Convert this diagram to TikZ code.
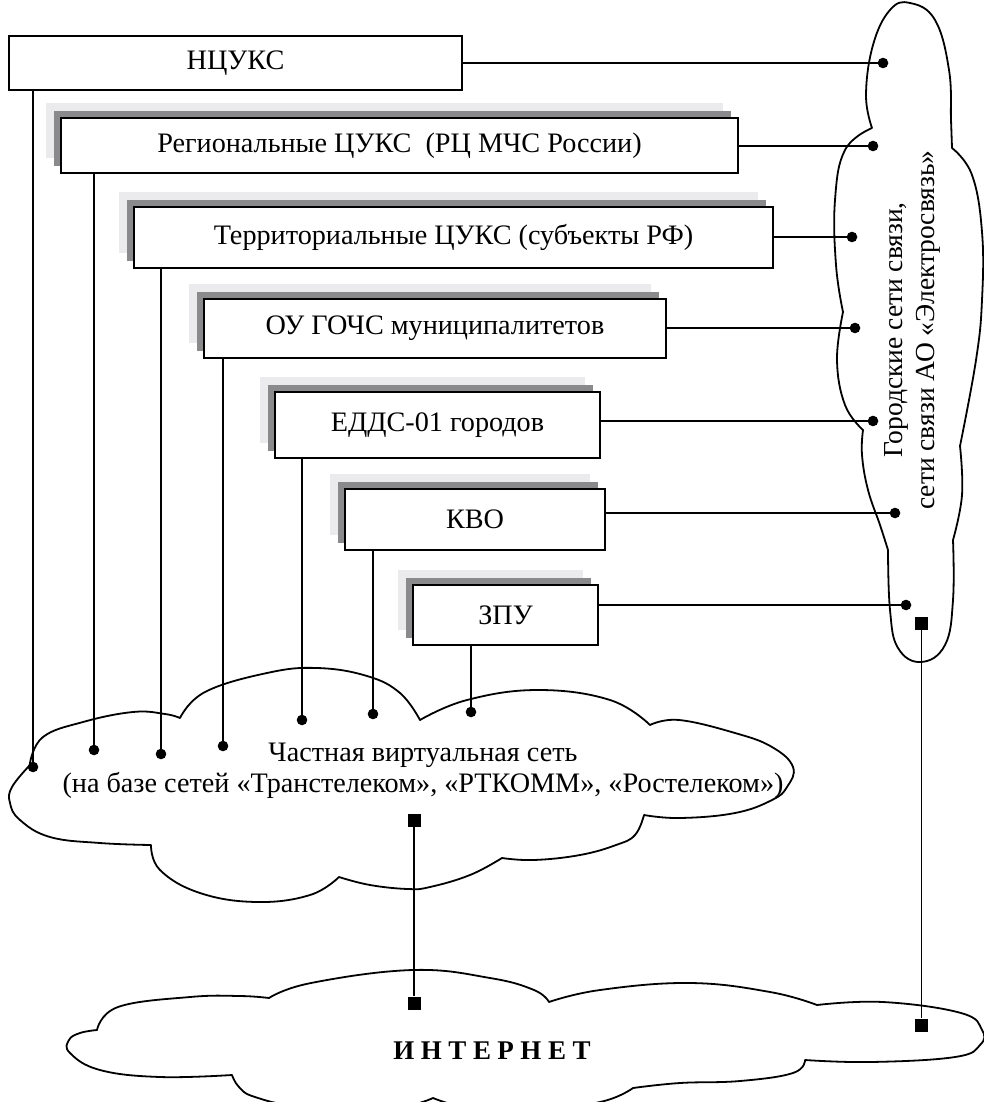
\documentclass[tikz,border=0pt]{standalone}
\usepackage{fontspec}
\setmainfont{Liberation Serif}
\usetikzlibrary{shadows}
\definecolor{lsh}{RGB}{235,235,237}
\definecolor{dsh}{RGB}{138,138,140}
\begin{document}
\begin{tikzpicture}[x=1pt,y=-1pt,
  every node/.style={font=\fontsize{28.2}{31.5}\selectfont},
  box/.style={draw=black, line width=2.7pt, fill=white, inner sep=0pt},
  shbox/.style={box,
    general shadow={fill=lsh, draw=none, shadow xshift=-15pt, shadow yshift=15pt},
    general shadow={fill=dsh, draw=none, shadow xshift=-7pt, shadow yshift=7pt}},
  cloud/.style={draw=black, line width=1.8pt, line join=round},
  conn/.style={draw=black, line width=1.1pt},
  dotm/.style={circle, fill=black, minimum size=10.6pt, inner sep=0pt},
  sqm/.style={rectangle, fill=black, minimum size=13pt, inner sep=0pt},
  lbl/.style={inner sep=0pt}]
\useasboundingbox (0,0) rectangle (984,1102);

% ---------- clouds ----------
% right cloud
\draw[cloud] plot[smooth, tension=0.7] coordinates {(872,128) (866,95) (873,45) (890,10) (910,3) (935,20) (949,70) (951,120) (952,148)}
 -- plot[smooth, tension=0.7] coordinates {(952,148) (972,175) (982,232) (982,300) (976,360) (960,446)}
 -- plot[smooth, tension=0.7] coordinates {(960,446) (962,495) (953,540)}
 -- plot[smooth, tension=0.7] coordinates {(953,540) (953,600) (945,645) (921,662) (898,648) (890,610) (888,550)}
 -- plot[smooth, tension=0.7] coordinates {(888,550) (880,525) (868,490) (862,455) (863,430)}
 -- plot[smooth, tension=0.7] coordinates {(863,430) (845,405) (837,360) (843,312)}
 -- plot[smooth, tension=0.7] coordinates {(843,312) (836,265) (835,200) (845,150) (872,128)}
 -- cycle;

% VPN cloud
\draw[cloud] plot[smooth, tension=0.7] coordinates {(30,763) (43,737) (83,722) (133,712) (165,714) (180,718)}
 -- plot[smooth, tension=0.7] coordinates {(180,718) (205,692) (267,673) (317,668) (367,676) (400,693) (420,720)}
 -- plot[smooth, tension=0.7] coordinates {(420,720) (467,700) (538,690) (610,700) (650,725)}
 -- plot[smooth, tension=0.7] coordinates {(650,725) (679,720) (735,733) (772,747) (793,767) (787,787) (772,800) (735,813) (680,818) (644,815)}
 -- plot[smooth, tension=0.7] coordinates {(644,815) (635,835) (616,845) (580,855) (534,860) (502,858)}
 -- plot[smooth, tension=0.7] coordinates {(502,858) (470,875) (430,887) (408,889) (370,885) (339,877)}
 -- plot[smooth, tension=0.7] coordinates {(339,877) (310,895) (257,902) (200,893) (160,870) (151,845)}
 -- plot[smooth, tension=0.7] coordinates {(151,845) (100,843) (50,837) (20,820) (10,803) (12,787) (30,765)}
 -- cycle;

% Internet cloud
\begin{scope}
\clip (0,0) rectangle (984,1102);
\draw[cloud] plot[smooth, tension=0.7] coordinates {(97,1030) (118,1007) (190,997) (240,996) (269,998)}
 -- plot[smooth, tension=0.7] coordinates {(269,998) (311,983) (413,970) (490,978) (534,990) (549,1002)}
 -- plot[smooth, tension=0.7] coordinates {(549,1002) (600,990) (690,983) (770,992) (817,1005)}
 -- plot[smooth, tension=0.7] coordinates {(817,1005) (883,1002) (961,1013) (982,1030) (980,1045) (955,1057) (871,1062) (805,1060)}
 -- plot[smooth, tension=0.7] coordinates {(805,1060) (793,1073) (740,1081) (680,1083) (633,1088)}
 -- plot[smooth, tension=0.7] coordinates {(633,1088) (600,1102) (530,1110) (470,1108) (433,1098)}
 -- plot[smooth, tension=0.7] coordinates {(433,1098) (390,1108) (300,1106) (255,1097) (239,1087) (232,1075)}
 -- plot[smooth, tension=0.7] coordinates {(232,1075) (160,1077) (100,1070) (70,1053) (69,1040) (80,1033) (97,1030)}
 -- cycle;
\end{scope}

% ---------- boxes ----------
\node[box, minimum width=453pt, minimum height=54pt] (b1) at (235.5,63) {НЦУКС};
\node[shbox, minimum width=677pt, minimum height=55pt] (b2) at (399.5,145.5) {Региональные ЦУКС\ \ (РЦ МЧС России)};
\node[shbox, minimum width=639pt, minimum height=61pt] (b3) at (453.5,237.5) {Территориальные ЦУКС (субъекты РФ)};
\node[shbox, minimum width=462pt, minimum height=59pt] (b4) at (435,328.5) {ОУ ГОЧС муниципалитетов};
\node[shbox, minimum width=325pt, minimum height=66pt] (b5) at (437.5,425) {ЕДДС-01 городов};
\node[shbox, minimum width=260pt, minimum height=61pt] (b6) at (475,519.5) {КВО};
\node[shbox, minimum width=185pt, minimum height=60pt] (b7) at (505.5,615) {ЗПУ};

% ---------- texts ----------
\node[lbl, align=center] (tvpn) at (423,771) {Частная виртуальная сеть\\(на базе сетей «Транстелеком», «РТКОММ», «Ростелеком»)};
\node[lbl, align=center, rotate=90, font=\fontsize{27.5}{32}\selectfont] (tcity) at (912,330) {Городские сети связи,\\сети связи АО «Электросвязь»};
\node[lbl, font=\fontsize{27}{31}\selectfont\bfseries] (tnet) at (492,1051) {И\hspace{6.5pt}Н\hspace{6.5pt}Т\hspace{6.5pt}Е\hspace{6.5pt}Р\hspace{6.5pt}Н\hspace{6.5pt}Е\hspace{6.5pt}Т};

% ---------- end markers ----------
\node[dotm] (r1) at (883,63) {};
\node[dotm] (r2) at (873,146) {};
\node[dotm] (r3) at (852,237) {};
\node[dotm] (r4) at (855,328) {};
\node[dotm] (r5) at (873,421) {};
\node[dotm] (r6) at (895,513) {};
\node[dotm] (r7) at (906,605) {};

\node[dotm] (v1) at (33,767) {};
\node[dotm] (v2) at (94,750) {};
\node[dotm] (v3) at (161,754) {};
\node[dotm] (v4) at (223,746) {};
\node[dotm] (v5) at (302,720) {};
\node[dotm] (v6) at (373,714) {};
\node[dotm] (v7) at (471,712) {};

\node[sqm] (s1) at (414,820) {};
\node[sqm] (s2) at (414,1003) {};
\node[sqm] (s3) at (921.5,623) {};
\node[sqm] (s4) at (921.5,1025) {};

% ---------- connectors ----------
\draw[conn] (r1) -- (r1 -| b1.east);
\draw[conn] (r2) -- (r2 -| b2.east);
\draw[conn] (r3) -- (r3 -| b3.east);
\draw[conn] (r4) -- (r4 -| b4.east);
\draw[conn] (r5) -- (r5 -| b5.east);
\draw[conn] (r6) -- (r6 -| b6.east);
\draw[conn] (r7) -- (r7 -| b7.east);

\draw[conn] (v1) -- (v1 |- b1.south);
\draw[conn] (v2) -- (v2 |- b2.south);
\draw[conn] (v3) -- (v3 |- b3.south);
\draw[conn] (v4) -- (v4 |- b4.south);
\draw[conn] (v5) -- (v5 |- b5.south);
\draw[conn] (v6) -- (v6 |- b6.south);
\draw[conn] (v7) -- (v7 |- b7.south);

\draw[conn] (s1) -- (s2);
\draw[conn] (s3) -- (s4);
\end{tikzpicture}
\end{document}
